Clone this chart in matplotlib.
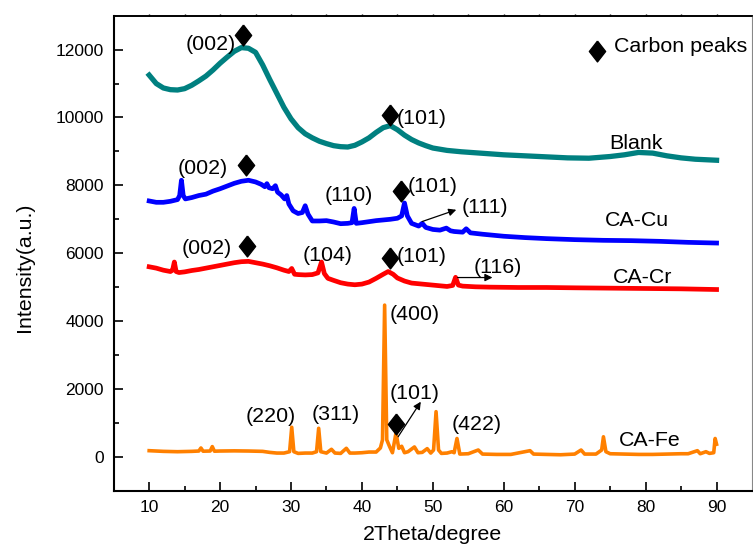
import matplotlib
matplotlib.use("Agg")
import matplotlib.pyplot as plt

plt.rcParams['font.family'] = ['Liberation Sans', 'DejaVu Sans']

# ---- XRD patterns (2theta in degrees, intensity in a.u.) ----
blank_x = [10, 11, 12, 13, 14, 15, 16, 17, 18, 19, 20, 21, 22, 23, 24, 25, 26, 27, 28,
           29, 30, 31, 32, 33, 34, 35, 36, 37, 38, 39, 40, 41, 42, 43, 44, 45, 46, 47,
           48, 49, 50, 52, 54, 56, 58, 60, 63, 66, 69, 72, 75, 77, 79, 81, 83, 85, 87, 90]
blank_y = [11250, 11000, 10870, 10820, 10810, 10850, 10950, 11080, 11220, 11400, 11600,
           11780, 11950, 12060, 12040, 11920, 11550, 11120, 10710, 10300, 9960, 9700,
           9520, 9400, 9300, 9230, 9170, 9140, 9130, 9180, 9280, 9400, 9560, 9700, 9760,
           9640, 9480, 9350, 9250, 9170, 9100, 9030, 8990, 8960, 8930, 8900, 8870, 8840,
           8810, 8800, 8850, 8900, 8970, 8950, 8870, 8810, 8770, 8740]

cu_x = [10, 11, 12, 13, 14, 14.3, 14.55, 14.8, 15.1, 16, 17, 18, 19, 20, 21, 22, 23, 24,
        25, 25.8, 26.3, 26.6, 26.9, 27.4, 27.8, 28.1, 28.6, 29.1, 29.4, 29.7, 30.3, 31,
        31.6, 32.0, 32.4, 33, 34, 35, 36, 37, 38, 38.6, 38.9, 39.2, 40, 41, 42, 43, 44,
        45, 45.6, 46.0, 46.4, 47, 48, 48.5, 49, 50, 51, 51.9, 52.5, 53, 54.2, 54.7, 55.3,
        57, 60, 63, 66, 70, 74, 78, 82, 86, 90]
cu_y = [7540, 7500, 7500, 7530, 7580, 7700, 8150, 7700, 7600, 7640, 7700, 7740, 7830,
        7900, 7980, 8060, 8120, 8150, 8100, 8030, 7960, 8050, 7930, 7900, 7990, 7800,
        7720, 7600, 7700, 7450, 7250, 7170, 7200, 7400, 7150, 6950, 6950, 6960, 6920,
        6870, 6880, 6900, 7320, 6880, 6900, 6930, 6960, 6980, 7000, 7030, 7100, 7480,
        7100, 6880, 6800, 6880, 6760, 6700, 6680, 6740, 6660, 6640, 6620, 6720, 6600,
        6560, 6500, 6460, 6430, 6400, 6380, 6370, 6350, 6320, 6300]

cr_x = [10, 11, 12, 13, 13.3, 13.55, 13.8, 14.2, 15, 16, 17, 18, 19, 20, 21, 22, 23, 24,
        25, 26, 27, 28, 29, 29.7, 30.1, 30.5, 31, 32, 33, 33.8, 34.3, 34.7, 35.2, 36, 37,
        38, 39, 40, 41, 42, 43, 43.7, 44.4, 45, 46, 47, 48, 49, 50, 51, 52, 52.8, 53.2,
        53.6, 54.2, 56, 58, 62, 66, 70, 75, 80, 85, 90]
cr_y = [5600, 5560, 5500, 5460, 5500, 5740, 5460, 5430, 5450, 5490, 5520, 5560, 5600,
        5640, 5680, 5720, 5750, 5760, 5720, 5680, 5630, 5570, 5500, 5460, 5550, 5380,
        5370, 5360, 5370, 5420, 5740, 5400, 5260, 5200, 5130, 5090, 5070, 5090, 5150,
        5260, 5380, 5460, 5380, 5270, 5180, 5120, 5100, 5080, 5060, 5040, 5020, 5050,
        5290, 5060, 5030, 5010, 5000, 4990, 4990, 4980, 4970, 4960, 4950, 4930]

fe_x = [10, 12, 14, 16, 17.0, 17.3, 17.6, 18.6, 18.9, 19.2, 20, 22, 24, 26, 27, 28, 29,
        29.8, 30.1, 30.4, 31, 32, 33, 33.6, 33.9, 34.2, 35, 35.7, 36.2, 37, 37.8, 38.3,
        39, 40, 41, 42, 42.6, 42.9, 43.2, 43.5, 43.9, 44.3, 44.8, 45.2, 45.6, 46.0, 46.5,
        47.4, 47.9, 48.5, 49.2, 49.7, 50.1, 50.45, 50.8, 51.2, 52, 52.7, 53.0, 53.4, 53.8,
        55, 56.4, 57, 59, 61, 63.7, 64.2, 66, 68, 70, 70.9, 71.4, 73, 73.8, 74.05, 74.4,
        75, 77, 79, 81, 83, 85, 86, 87.3, 87.7, 88.5, 89, 89.6, 89.8, 90]
fe_y = [180, 160, 150, 160, 170, 260, 165, 170, 300, 165, 170, 175, 170, 160, 130, 110,
        110, 150, 870, 150, 100, 110, 110, 150, 840, 150, 110, 220, 110, 100, 250, 110,
        110, 120, 140, 140, 260, 500, 4470, 500, 300, 120, 700, 250, 310, 120, 150, 290,
        120, 130, 240, 110, 200, 1330, 200, 100, 110, 150, 120, 540, 80, 90, 200, 80, 70,
        70, 180, 80, 70, 60, 80, 200, 80, 80, 200, 590, 150, 90, 80, 70, 70, 80, 90, 90,
        180, 90, 150, 100, 120, 540, 370]

series_names = ['Blank', 'CA-Cu', 'CA-Cr', 'CA-Fe']
series_colors = ['#008080', '#0000FF', '#FF0000', '#FF8000']

# ---- figure ----
fig = plt.figure(figsize=(7.53, 5.51), dpi=100)
ax = fig.add_axes([0.151, 0.1094, 0.8477, 0.8621])

ax.plot(blank_x, blank_y, color=series_colors[0], lw=3.8, solid_joinstyle='round')
ax.plot(cu_x, cu_y, color=series_colors[1], lw=3.4, solid_joinstyle='round')
ax.plot(cr_x, cr_y, color=series_colors[2], lw=3.4, solid_joinstyle='round')
ax.plot(fe_x, fe_y, color=series_colors[3], lw=2.6, solid_joinstyle='round')

ax.set_xlim(5, 95)
ax.set_ylim(-1000, 13000)
ax.set_xticks(range(10, 91, 10))
ax.set_xticks(range(15, 91, 10), minor=True)
ax.set_yticks(range(0, 12001, 2000))
ax.set_yticks(range(1000, 12001, 2000), minor=True)

ax.tick_params(axis='both', which='major', direction='in', length=6.2, width=1.2,
               labelsize=12.5, pad=7)
ax.tick_params(axis='both', which='minor', direction='in', length=3.4, width=1.2)
for side in ('left', 'bottom'):
    ax.spines[side].set_linewidth(1.5)
ax.spines['top'].set_linewidth(1.2)
ax.spines['right'].set_linewidth(0.8)
ax.spines['right'].set_color('#888888')

# small ticks along the top edge
top = ax.secondary_xaxis('top')
top.set_xticks(range(10, 91, 5))
top.tick_params(direction='out', length=1.8, width=1.0, labeltop=False)
top.spines['top'].set_linewidth(1.2)

ax.set_xlabel('2Theta/degree', fontsize=15.4)
ax.xaxis.set_label_coords(0.5, -0.093)
ax.xaxis.label.set_va('center')
ax.set_ylabel('Intensity(a.u.)', fontsize=15.4)
ax.yaxis.set_label_coords(-0.1405, 0.47)
ax.yaxis.label.set_va('center')

# carbon-peak marker
diamond = [(0, 1), (0.78, 0), (0, -1), (-0.78, 0), (0, 1)]
carbon_x = [23.2, 43.9, 23.7, 45.5, 23.8, 43.9, 44.8]
carbon_y = [12440, 10083, 8607, 7820, 6217, 5854, 975]
ax.plot(carbon_x, carbon_y, ls='none', marker=diamond, ms=15, color='k')
ax.plot([73.1], [11951], ls='none', marker=diamond, ms=15, color='k')
ax.text(75.6, 12080, 'Carbon peaks', fontsize=15.4, ha='left', va='center')

fs = 15.4
labels = [
    ('(002)', 18.7, 12148), ('(101)', 48.4, 9985),
    ('(002)', 17.6, 8510), ('(110)', 38.2, 7692), ('(101)', 49.9, 7967),
    ('(111)', 57.4, 7347),
    ('(002)', 18.1, 6149), ('(104)', 35.2, 5922), ('(101)', 48.4, 5902),
    ('(116)', 59.1, 5588),
    ('(400)', 47.5, 4181), ('(220)', 27.1, 1201), ('(311)', 36.3, 1251),
    ('(101)', 47.4, 1871), ('(422)', 56.2, 955),
]
for txt, x, y in labels:
    ax.text(x, y, txt, fontsize=fs, ha='center', va='center')

name_pos = [(78.6, 9247), (78.8, 6955), (79.5, 5294), (80.6, 472)]
for name, (x, y) in zip(series_names, name_pos):
    ax.text(x, y, name, fontsize=fs, ha='center', va='center')

arrow_kw = dict(arrowstyle='-|>', color='k', lw=0.9, mutation_scale=11,
                shrinkA=0, shrinkB=0)
ax.annotate('', xy=(53.3, 7280), xytext=(48.5, 6934), arrowprops=arrow_kw)
ax.annotate('', xy=(58.4, 5283), xytext=(53.5, 5283), arrowprops=arrow_kw)
ax.annotate('', xy=(48.3, 1623), xytext=(45.1, 590), arrowprops=arrow_kw)

fig.savefig('out.png', dpi=100)
